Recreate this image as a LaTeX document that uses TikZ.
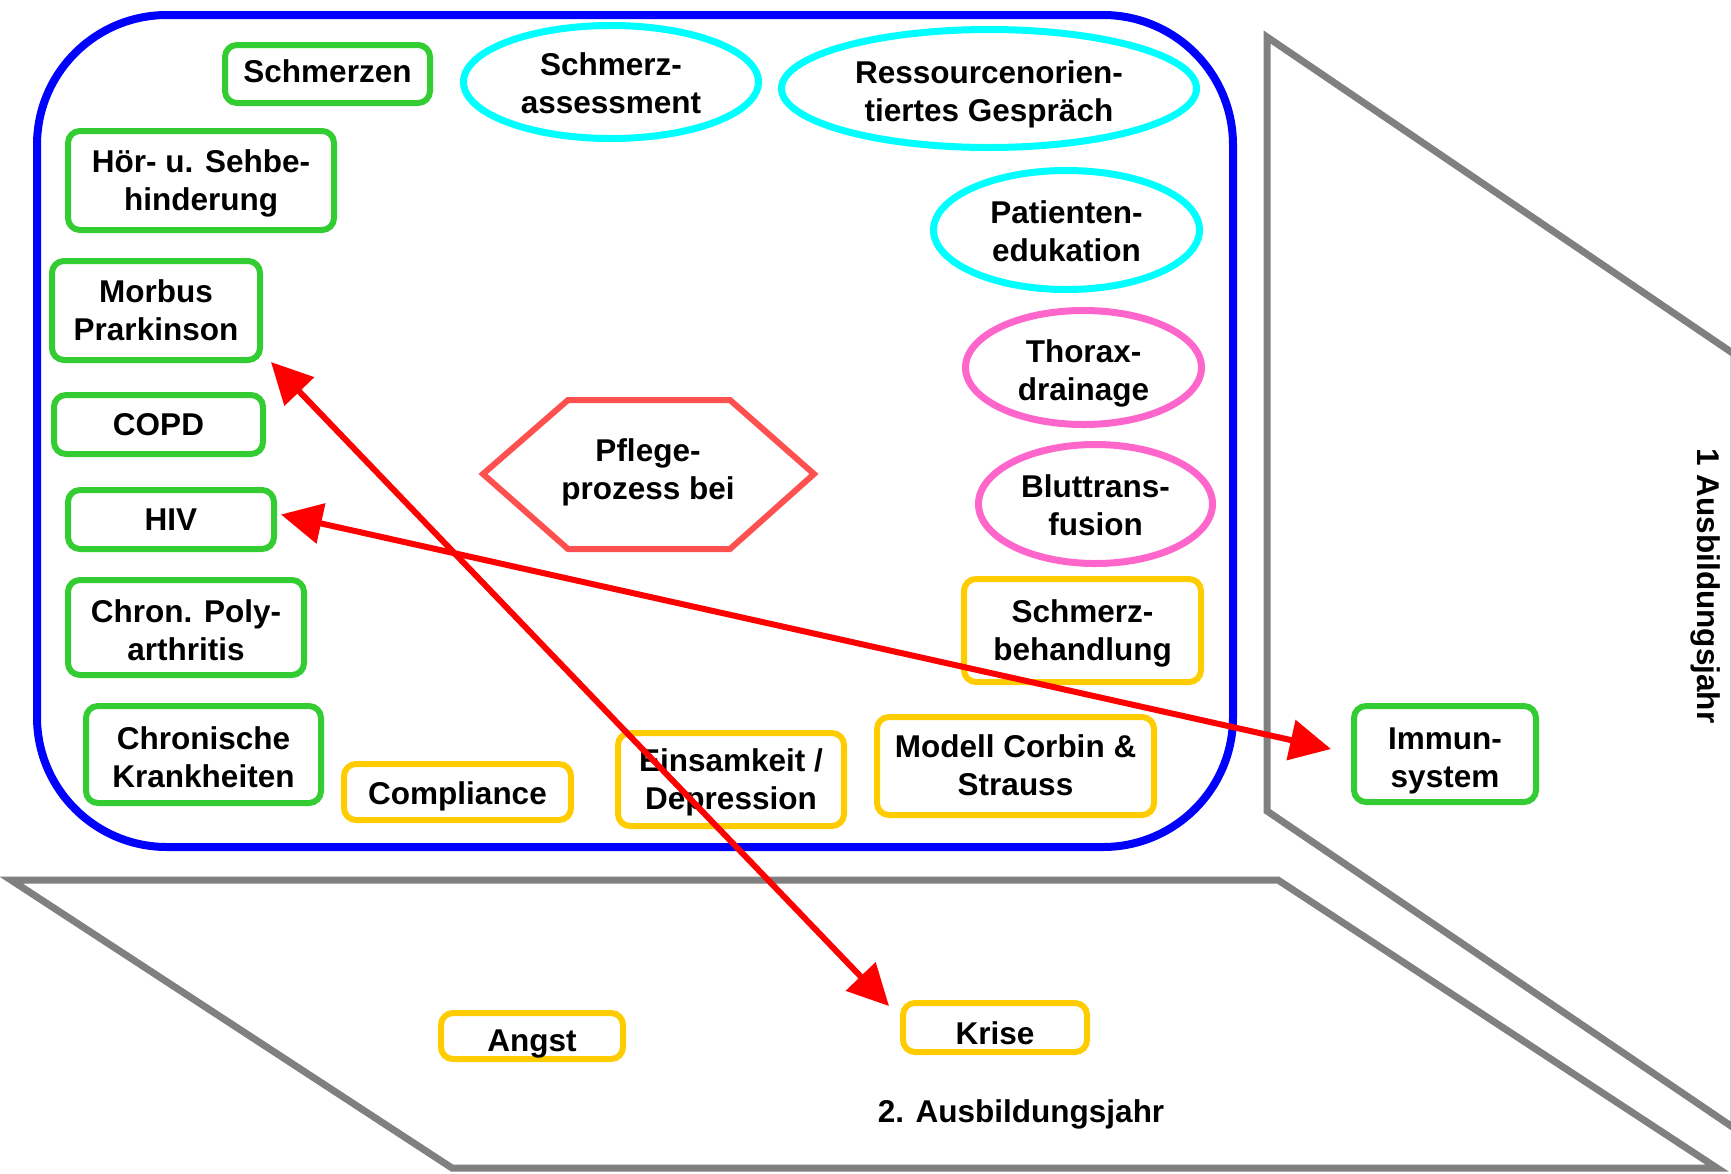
\documentclass[tikz,border=0pt]{standalone}
\usepackage{fontspec}
\setmainfont{Liberation Sans}
\usetikzlibrary{shapes.geometric,arrows.meta,calc}
\definecolor{bl}{HTML}{0000FF}
\definecolor{gr}{HTML}{33CC33}
\definecolor{cy}{HTML}{00FFFF}
\definecolor{pk}{HTML}{FF66CC}
\definecolor{yl}{HTML}{FFCC00}
\definecolor{hx}{HTML}{FF5050}
\definecolor{gy}{HTML}{808080}
\definecolor{rd}{HTML}{FF0000}
\newcommand\lowamt{0pt}
\newcommand\pst{\rule[-6.7pt]{0pt}{35.2pt}}
\newcommand\lineT[1]{\pst\raisebox{-\lowamt}[\height][\depth]{#1}}
\begin{document}
\begin{tikzpicture}[x=1pt,y=-1pt,
 every node/.style={font=\fontsize{31.5}{38}\selectfont\bfseries, align=center, inner sep=0pt},
 lowby/.code={\def\lowamt{#1}},
 gbox/.style={draw=gr, line width=6pt, rounded corners=12pt, rectangle},
 ybox/.style={draw=yl, line width=6pt, rounded corners=12pt, rectangle},
 cell/.style={draw=cy, line width=7pt, ellipse},
 pell/.style={draw=pk, line width=7pt, ellipse},
 frame/.style={draw=gy, line width=7pt, line join=miter},
 link/.style={draw=rd, line width=6pt, {Triangle[length=41pt,width=40pt]}-{Triangle[length=41pt,width=40pt]}}
]
\useasboundingbox (0,0) rectangle (1731,1173);

% gray planes
\draw[frame] (1267,37) -- (1734,354) -- (1734,1128) -- (1267,811) -- cycle;
\draw[frame] (11,880) -- (1278,880) -- (1717,1168) -- (452,1168) -- cycle;

% blue frame
\draw[draw=bl, line width=8pt, rounded corners=130pt] (37,15) rectangle (1233,847);

% green boxes
\node[gbox, lowby=-2pt, minimum width=205pt, minimum height=58pt] (schmerzen) at (327.5,74) {\lineT{Schmerzen}};
\node[gbox, minimum width=266pt, minimum height=99pt] (hoer) at (201,180.5) {\lineT{Hör- u. Sehbe-}\\\lineT{hinderung}};
\node[gbox, minimum width=208pt, minimum height=99pt] (morbus) at (156,310.5) {\lineT{Morbus}\\\lineT{Prarkinson}};
\node[gbox, minimum width=209pt, minimum height=59pt] (copd) at (158.5,424.5) {\lineT{COPD}};
\node[gbox, minimum width=206pt, minimum height=59pt] (hiv) at (171,519.5) {\lineT{HIV}};
\node[gbox, lowby=3pt, minimum width=236pt, minimum height=95pt] (poly) at (186,627.5) {\lineT{Chron. Poly-}\\\lineT{arthritis}};
\node[gbox, lowby=3pt, minimum width=235pt, minimum height=97pt] (chron) at (203.5,754.5) {\lineT{Chronische}\\\lineT{Krankheiten}};
\node[gbox, lowby=4pt, minimum width=182pt, minimum height=96pt] (immun) at (1445,754) {\lineT{Immun-}\\\lineT{system}};

% yellow boxes
\node[ybox, lowby=1.5pt, minimum width=227pt, minimum height=56pt] (compl) at (457.5,792) {\lineT{Compliance}};
\node[ybox, minimum width=226pt, minimum height=93pt] (einsam) at (731,779.5) {\lineT{Einsamkeit /}\\\lineT{Depression}};
\node[ybox, minimum width=277pt, minimum height=98pt] (modell) at (1015.5,766) {\lineT{Modell Corbin \&}\\\lineT{Strauss}};
\node[ybox, minimum width=237pt, minimum height=103pt] (sbeh) at (1082.5,630.5) {\lineT{Schmerz-}\\\lineT{behandlung}};
\node[ybox, lowby=5pt, minimum width=182pt, minimum height=46pt] (angst) at (532,1036) {\lineT{Angst}};
\node[ybox, lowby=6.5pt, minimum width=184pt, minimum height=49pt] (krise) at (995,1027.5) {\lineT{Krise}};

% ellipses
\node[cell, lowby=1.5pt, minimum width=295pt, minimum height=113pt] (sass) at (611,82) {\lineT{Schmerz-}\\\lineT{assessment}};
\node[cell, lowby=3pt, minimum width=415pt, minimum height=118pt] (ress) at (989,88.5) {\lineT{Ressourcenorien-}\\\lineT{tiertes Gespräch}};
\node[cell, lowby=1.5pt, minimum width=266pt, minimum height=119pt] (pat) at (1066.5,230) {\lineT{Patienten-}\\\lineT{edukation}};
\node[pell, lowby=3.5pt, minimum width=236pt, minimum height=114pt] (thorax) at (1083.5,367.5) {\lineT{Thorax-}\\\lineT{drainage}};
\node[pell, lowby=2pt, minimum width=234pt, minimum height=119pt] (blut) at (1095.5,504) {\lineT{Bluttrans-}\\\lineT{fusion}};

% hexagon
\node[lowby=-4.5pt] (pflege) at (648,474) {\lineT{Pflege-}\\\lineT{prozess bei}};
\draw[draw=hx, line width=6pt] (483,474) -- (568,400) -- (730,400) -- (814,474) -- (730,549) -- (568,549) -- cycle;

% year labels
\node[rotate=-90] (j1) at (1706,586) {1 Ausbildungsjahr};
\node[lowby=1.5pt] (j2) at (1021,1110) {\lineT{2. Ausbildungsjahr}};

% arrows
\draw[link] ($(morbus.south east)+(8,-1)$) -- ($(krise.north west)+(-11,6)$);
\draw[link] ($(hiv.east)+(4,-5)$) -- ($(immun.west)+(-20,-5)$);
\end{tikzpicture}
\end{document}
